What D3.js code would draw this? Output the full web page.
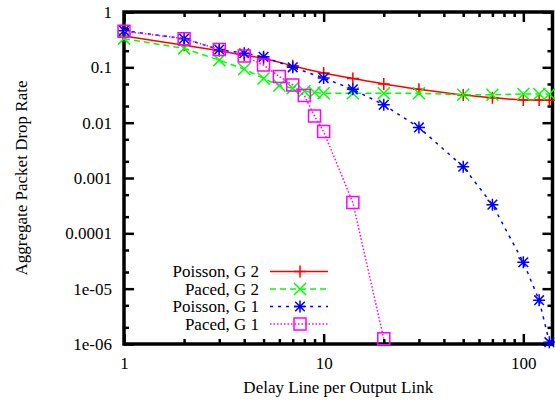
<!DOCTYPE html>
<html>
<head>
<meta charset="utf-8">
<script src="https://cdn.jsdelivr.net/npm/d3@7/dist/d3.min.js"></script>
<style>
  html, body { margin: 0; padding: 0; background: #fff; }
  svg { display: block; }
  text { font-family: "Liberation Serif", "Times New Roman", serif; font-size: 17px; fill: #000; }
</style>
</head>
<body>
<svg id="chart" width="555" height="404"></svg>
<script>
// ---- data ----
const seriesNames = ["Poisson, G 2", "Paced, G 2", "Poisson, G 1", "Paced, G 1"];
const poissonG2X = [1, 2, 3, 4, 5, 7, 10, 14, 20, 30, 50, 70, 100, 120, 135];
const poissonG2Y = [0.37, 0.25, 0.2, 0.165, 0.145, 0.107, 0.079, 0.063, 0.05, 0.04, 0.0316, 0.0283, 0.0258, 0.0256, 0.0255];
const pacedG2X = [1, 2, 3, 4, 5, 6, 7, 8, 9, 10, 14, 20, 30, 50, 70, 100, 120, 135];
const pacedG2Y = [0.33, 0.22, 0.135, 0.093, 0.063, 0.047, 0.042, 0.037, 0.035, 0.034, 0.034, 0.034, 0.034, 0.032, 0.032, 0.033, 0.033, 0.033];
const poissonG1X = [1, 2, 3, 4, 5, 7, 10, 14, 20, 30, 50, 70, 100, 120, 135];
const poissonG1Y = [0.46, 0.33, 0.21, 0.18, 0.155, 0.1, 0.064, 0.04, 0.021, 0.0082, 0.0016, 0.00033, 3.0e-5, 6.2e-6, 1.08e-6];
const pacedG1X = [1, 2, 3, 4, 5, 6, 7, 8, 9, 10, 14, 20];
const pacedG1Y = [0.45, 0.33, 0.21, 0.16, 0.11, 0.068, 0.048, 0.031, 0.0132, 0.0069, 3.6e-4, 1.25e-6];

const xTickValues = [1, 10, 100];
const xTickLabels = ["1", "10", "100"];
const yTickValues = [1, 0.1, 0.01, 0.001, 0.0001, 1e-5, 1e-6];
const yTickLabels = ["1", "0.1", "0.01", "0.001", "0.0001", "1e-05", "1e-06"];
const xTitle = "Delay Line per Output Link";
const yTitle = "Aggregate Packet Drop Rate";

// ---- layout ----
const L = 124, R = 552.5, T = 12, B = 344;
const svg = d3.select("#chart");
const x = d3.scaleLog().domain([1, 140]).range([L, R]);
const y = d3.scaleLog().domain([1e-6, 1]).range([B, T]);

const xMinor = [];
for (let dec = 1; dec <= 100; dec *= 10) for (let k = 2; k <= 9; k++) { const v = k * dec; if (v < 140) xMinor.push(v); }
const yMinor = [];
for (let e = -6; e < 0; e++) for (const k of [2, 5]) yMinor.push(k * Math.pow(10, e));

function styleAxis(g) {
  g.select(".domain").remove();
  g.selectAll(".tick line").attr("stroke", "#000").attr("stroke-width", 2.5);
  g.selectAll(".tick text").attr("font-family", "Liberation Serif, serif").attr("font-size", 17).attr("fill", "#000");
}

// y axes (left with labels, right mirror)
svg.append("g").attr("transform", `translate(${L},0)`)
  .call(d3.axisLeft(y).tickValues(yTickValues).tickFormat((d, i) => yTickLabels[i]).tickSizeInner(-10).tickSizeOuter(0).tickPadding(12))
  .call(styleAxis);
svg.append("g").attr("transform", `translate(${L},0)`)
  .call(d3.axisLeft(y).tickValues(yMinor).tickFormat("").tickSizeInner(-5).tickSizeOuter(0))
  .call(styleAxis);
svg.append("g").attr("transform", `translate(${R},0)`)
  .call(d3.axisRight(y).tickValues(yTickValues).tickFormat("").tickSizeInner(-10).tickSizeOuter(0))
  .call(styleAxis);
svg.append("g").attr("transform", `translate(${R},0)`)
  .call(d3.axisRight(y).tickValues(yMinor).tickFormat("").tickSizeInner(-5).tickSizeOuter(0))
  .call(styleAxis);

// x axes (bottom with labels, top mirror)
svg.append("g").attr("transform", `translate(0,${B})`)
  .call(d3.axisBottom(x).tickValues(xTickValues).tickFormat((d, i) => xTickLabels[i]).tickSizeInner(-10).tickSizeOuter(0).tickPadding(13))
  .call(styleAxis);
svg.append("g").attr("transform", `translate(0,${B})`)
  .call(d3.axisBottom(x).tickValues(xMinor).tickFormat("").tickSizeInner(-5).tickSizeOuter(0))
  .call(styleAxis);
svg.append("g").attr("transform", `translate(0,${T})`)
  .call(d3.axisTop(x).tickValues(xTickValues).tickFormat("").tickSizeInner(-10).tickSizeOuter(0))
  .call(styleAxis);
svg.append("g").attr("transform", `translate(0,${T})`)
  .call(d3.axisTop(x).tickValues(xMinor).tickFormat("").tickSizeInner(-5).tickSizeOuter(0))
  .call(styleAxis);

// border
svg.append("rect").attr("x", L).attr("y", T).attr("width", R - L).attr("height", B - T)
  .attr("fill", "none").attr("stroke", "#000").attr("stroke-width", 3.5);

// titles
svg.append("text").attr("x", (L + R) / 2).attr("y", 393).attr("text-anchor", "middle").text(xTitle);
svg.append("text").attr("transform", `translate(27,${(T + B) / 2}) rotate(-90)`).attr("text-anchor", "middle").text(yTitle);

// markers
function marker(g, type, cx, cy, color) {
  const s = 6;
  const p = d3.path();
  if (type === "plus" || type === "star") {
    p.moveTo(cx - s, cy); p.lineTo(cx + s, cy);
    p.moveTo(cx, cy - s); p.lineTo(cx, cy + s);
  }
  if (type === "cross" || type === "star") {
    const c = type === "star" ? s * 0.8 : s;
    p.moveTo(cx - c, cy - c); p.lineTo(cx + c, cy + c);
    p.moveTo(cx - c, cy + c); p.lineTo(cx + c, cy - c);
  }
  if (type === "square") {
    p.rect(cx - s, cy - s, 2 * s, 2 * s);
  }
  g.append("path").attr("d", p.toString()).attr("fill", "none").attr("stroke", color).attr("stroke-width", 1.5);
}

const series = [
  { name: seriesNames[0], xs: poissonG2X, ys: poissonG2Y, color: "#ff0000", dash: null, m: "plus", curve: d3.curveMonotoneX },
  { name: seriesNames[1], xs: pacedG2X, ys: pacedG2Y, color: "#00ff00", dash: "6,4", m: "cross", curve: d3.curveLinear },
  { name: seriesNames[2], xs: poissonG1X, ys: poissonG1Y, color: "#0000ff", dash: "3,5", m: "star", curve: d3.curveLinear },
  { name: seriesNames[3], xs: pacedG1X, ys: pacedG1Y, color: "#ff00ff", dash: "1.5,2", m: "square", curve: d3.curveLinear }
];

const legendRowY = [271.5, 289, 306.5, 324];
series.forEach((s, i) => {
  const pts = s.xs.map((v, j) => [v, s.ys[j]]);
  const g = svg.append("g");
  const line = d3.line().x(d => x(d[0])).y(d => y(d[1])).curve(s.curve);
  g.append("path").attr("d", line(pts)).attr("fill", "none").attr("stroke", s.color)
    .attr("stroke-width", 1.5).attr("stroke-dasharray", s.dash);
  pts.forEach(d => marker(g, s.m, x(d[0]), y(d[1]), s.color));

  // legend
  const ly = legendRowY[i];
  svg.append("text").attr("x", 259).attr("y", ly + 5.5).attr("text-anchor", "end").text(s.name);
  svg.append("line").attr("x1", 270).attr("x2", 328).attr("y1", ly).attr("y2", ly)
    .attr("stroke", s.color).attr("stroke-width", 1.5).attr("stroke-dasharray", s.dash);
  marker(svg, s.m, 300, ly, s.color);
});
</script>
</body>
</html>
